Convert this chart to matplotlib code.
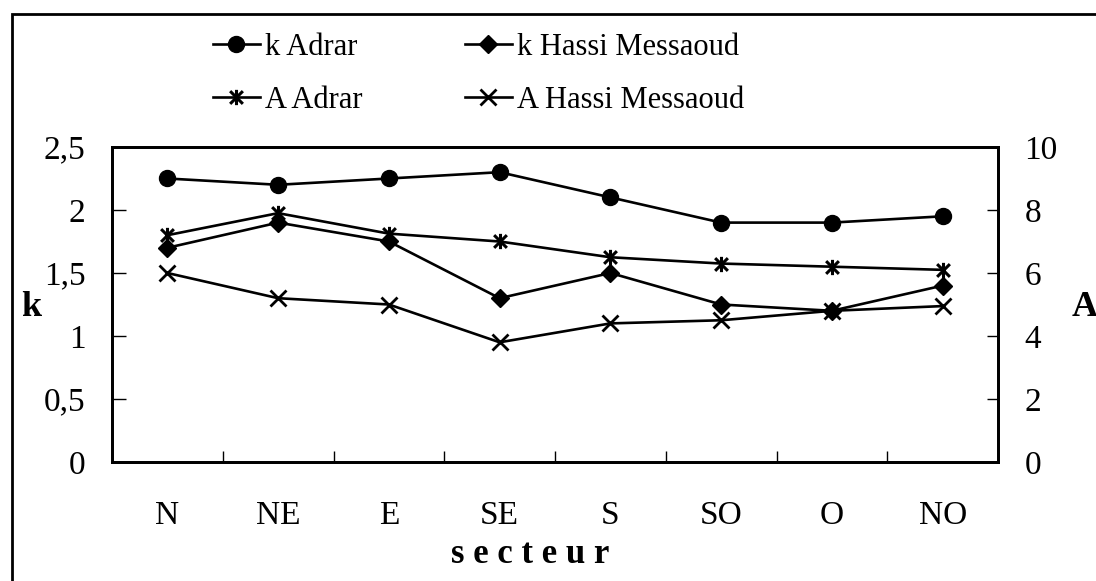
import matplotlib.pyplot as plt
import numpy as np
from matplotlib.path import Path
from matplotlib.patches import Rectangle

plt.rcParams['font.family'] = ['Liberation Serif', 'DejaVu Serif']

# données par secteur
secteurs = ['N', 'NE', 'E', 'SE', 'S', 'SO', 'O', 'NO']
k_adrar = [2.25, 2.2, 2.25, 2.3, 2.1, 1.9, 1.9, 1.95]
k_hassi = [1.7, 1.9, 1.75, 1.3, 1.5, 1.25, 1.2, 1.4]
A_adrar = [7.2, 7.9, 7.25, 7.0, 6.5, 6.3, 6.2, 6.1]
A_hassi = [6.0, 5.2, 5.0, 3.8, 4.4, 4.5, 4.8, 4.95]

k_ticks = [0, 0.5, 1, 1.5, 2, 2.5]
k_labels = ['0', '0,5', '1', '1,5', '2', '2,5']
A_ticks = [0, 2, 4, 6, 8, 10]

# marqueur étoile (x + trait vertical)
star = Path([(-1, -1), (1, 1), (-1, 1), (1, -1), (0, -1.2), (0, 1.2)],
            [Path.MOVETO, Path.LINETO, Path.MOVETO, Path.LINETO, Path.MOVETO, Path.LINETO])

fig = plt.figure(figsize=(10.96, 5.81), dpi=100)
ax = fig.add_axes([0.1022, 0.2048, 0.8084, 0.5422])
ax2 = ax.twinx()

x = np.arange(len(secteurs))
lw = 1.9
l1, = ax.plot(x, k_adrar, color='black', lw=lw, marker='o', ms=11.5)
l2, = ax.plot(x, k_hassi, color='black', lw=lw, marker='D', ms=9)
l3, = ax2.plot(x, A_adrar, color='black', lw=lw, marker=star, ms=11,
               mew=2.2, mfc='none')
l4, = ax2.plot(x, A_hassi, color='black', lw=lw, marker='x', ms=11.5, mew=2)

ax.set_xlim(-0.5, len(secteurs) - 0.5)
ax.set_ylim(0, 2.5)
ax2.set_ylim(0, 10)

fs = 24

# graduations entre les catégories, étiquettes au centre
ax.set_xticks(np.arange(0.5, len(secteurs) - 0.5, 1))
ax.set_xticklabels([])
ax.set_xticks(x, minor=True)
ax.set_xticklabels(secteurs, minor=True)
ax.tick_params(axis='x', which='major', direction='in', length=8, width=1)
ax.tick_params(axis='x', which='minor', length=0, pad=28, labelsize=fs)

ax.set_yticks(k_ticks)
ax.set_yticklabels(k_labels)
ax.tick_params(axis='y', direction='in', length=10, width=1, pad=19, labelsize=fs)
ax2.set_yticks(A_ticks)
ax2.tick_params(axis='y', direction='in', length=8, width=1, pad=19, labelsize=fs)

for a in (ax, ax2):
    for s in a.spines.values():
        s.set_linewidth(2)

fig.text(0.484, 0.045, 's e c t e u r', ha='center', va='center',
         fontsize=25, fontweight='bold')
fig.text(0.028, 0.47, 'k', ha='center', va='center', fontsize=26, fontweight='bold')
fig.text(0.99, 0.47, 'A', ha='center', va='center', fontsize=26, fontweight='bold')

fig.legend([l1, l3, l2, l4],
           ['k Adrar', 'A Adrar', 'k Hassi Messaoud', 'A Hassi Messaoud'],
           ncol=2, frameon=False, fontsize=22, handlelength=1.55,
           handletextpad=0.16, columnspacing=3.35, labelspacing=0.8,
           borderpad=0, borderaxespad=0, loc='upper left',
           bbox_to_anchor=(0.194, 0.944))

# cadre autour de la figure
fig.patches.append(Rectangle((0.011, -0.05), 1.1, 0.976 + 0.05,
                             transform=fig.transFigure, fill=False,
                             edgecolor='black', lw=2))

plt.savefig('out.png', dpi=100)
